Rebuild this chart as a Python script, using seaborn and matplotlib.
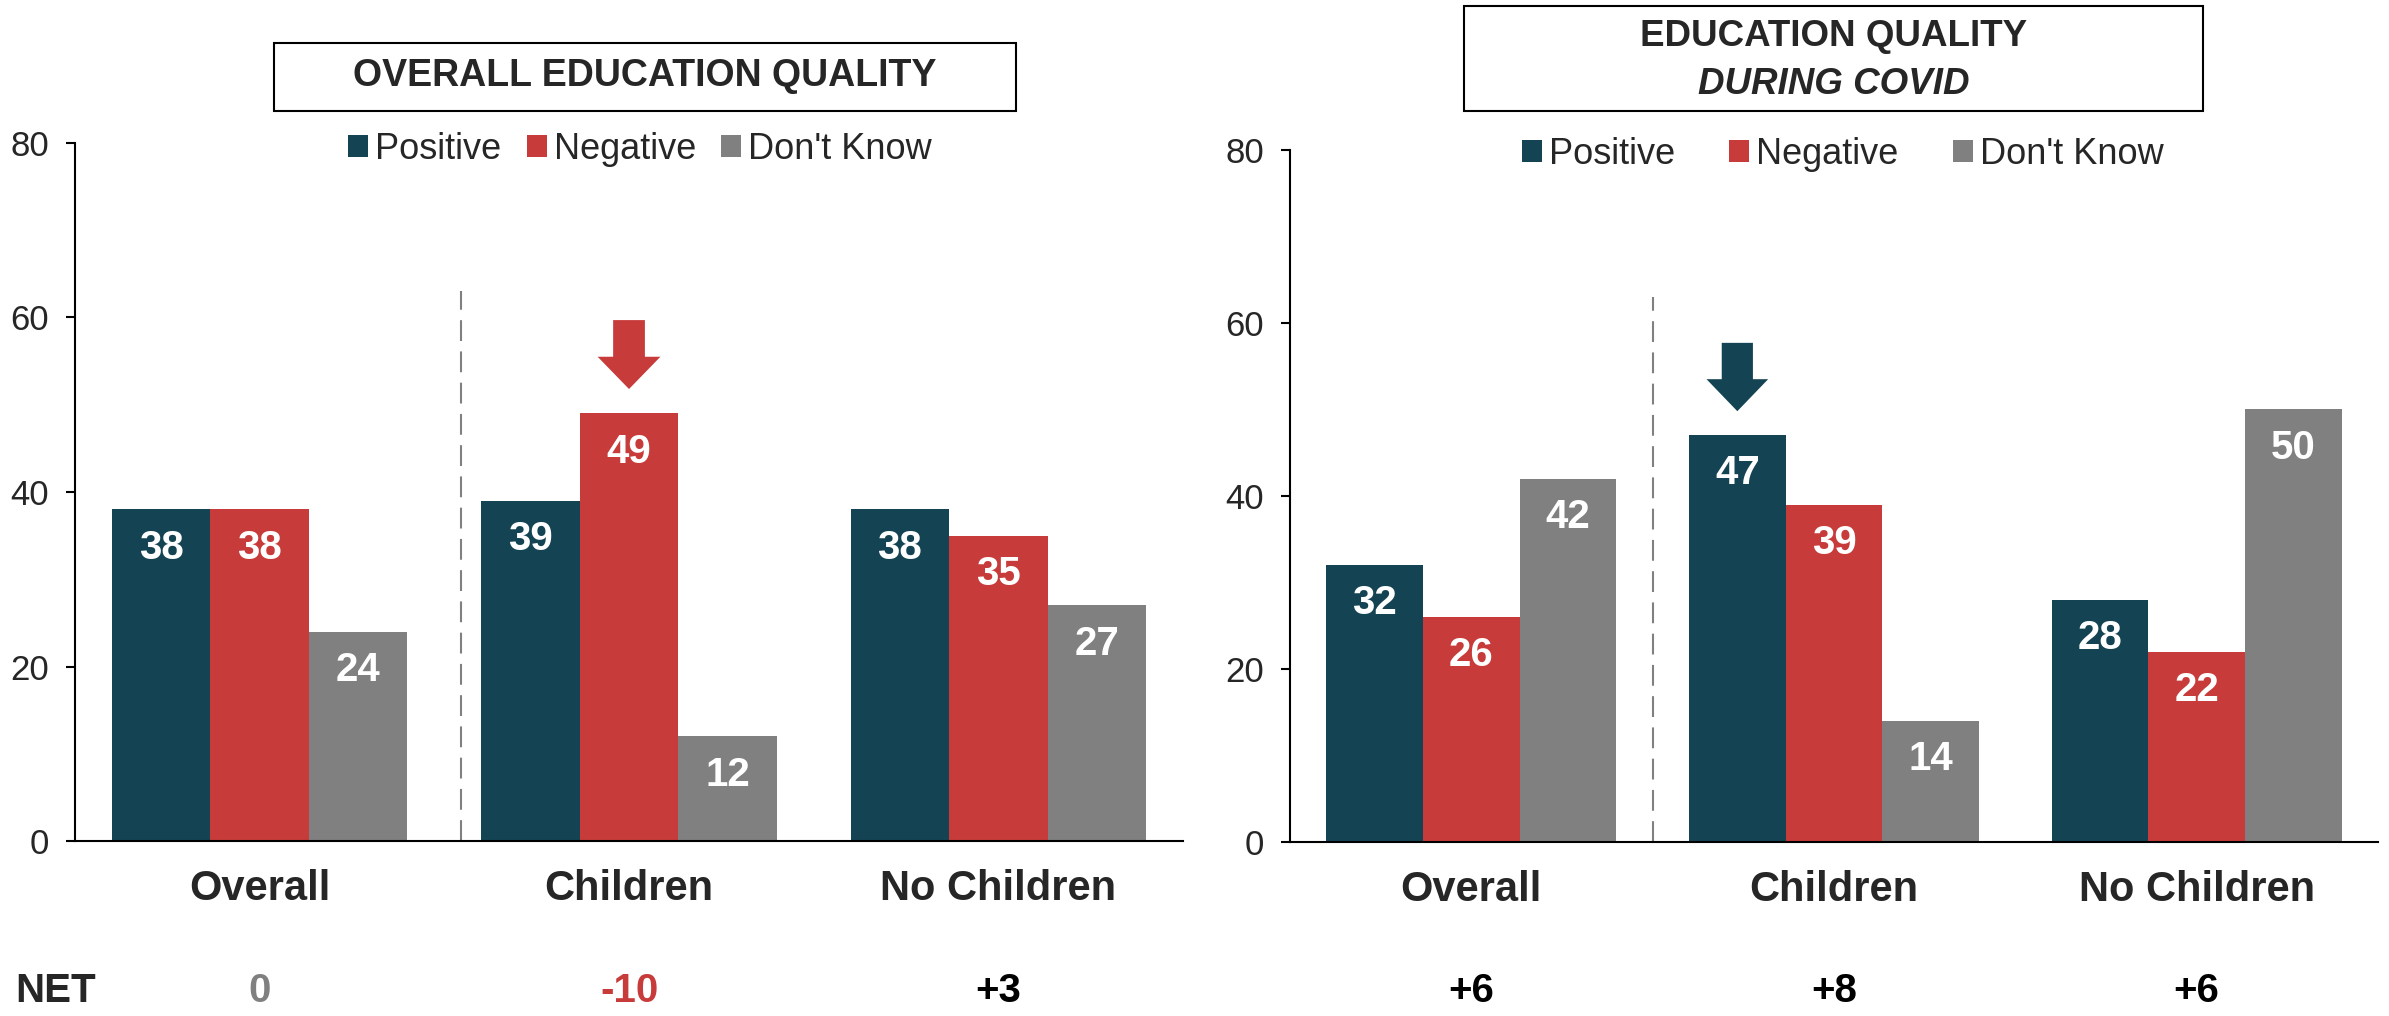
import matplotlib
matplotlib.use("Agg")
import matplotlib.pyplot as plt
from matplotlib.patches import Rectangle
from matplotlib.transforms import blended_transform_factory
import seaborn as sns
import pandas as pd

# data
categories = ["Overall", "Children", "No Children"]
series = ["Positive", "Negative", "Don't Know"]

overall_positive = [38, 39, 38]
overall_negative = [38, 49, 35]
overall_dont_know = [24, 12, 27]

covid_positive = [32, 47, 28]
covid_negative = [26, 39, 22]
covid_dont_know = [42, 14, 50]

# which bar gets the arrow on each panel
overall_highlight = ("Children", "Negative")
covid_highlight = ("Children", "Positive")

colors = {"Positive": "#144453", "Negative": "#C83B3B", "Don't Know": "#808080"}
GREY = "#808080"
NET_Y = 1 - 991 / 1016

sns.set_style("white")
plt.rcParams["font.family"] = ["Liberation Sans", "DejaVu Sans"]


def make_frame(pos, neg, dk):
    rows = []
    for i, cat in enumerate(categories):
        rows.append((cat, "Positive", pos[i]))
        rows.append((cat, "Negative", neg[i]))
        rows.append((cat, "Don't Know", dk[i]))
    return pd.DataFrame(rows, columns=["group", "answer", "value"])


def draw_panel(fig, rect, df, highlight, divider_x, legend_xy, colspacing):
    ax = fig.add_axes(rect)
    sns.barplot(data=df, x="group", y="value", hue="answer", order=categories,
                hue_order=series, palette=colors, width=0.8, linewidth=0,
                saturation=1, ax=ax)
    ax.set_xlim(-0.5, 2.5)
    ax.set_ylim(0, 80)
    ax.set_yticks([0, 20, 40, 60, 80])
    ax.set_xlabel("")
    ax.set_ylabel("")
    sns.despine(ax=ax)
    for side in ["left", "bottom"]:
        ax.spines[side].set_color("black")
        ax.spines[side].set_linewidth(1.5)
    ax.tick_params(axis="y", labelsize=25, length=6.5, width=1.5, pad=12,
                   left=True, color="black")
    ax.tick_params(axis="x", length=0, pad=20)
    ax.set_xticks(range(len(categories)))
    ax.set_xticklabels(categories, fontsize=30, fontweight="bold")

    # value labels inside the bars
    bar_w = 0.8 / len(series)
    for j, s in enumerate(series):
        sub = df[df["answer"] == s].set_index("group")
        for i, cat in enumerate(categories):
            v = sub.loc[cat, "value"]
            x = i + (j - 1) * bar_w
            ax.text(x, v - 4.4, f"{v}", ha="center", va="center", color="white",
                    fontsize=29, fontweight="bold")

    # dashed divider
    ax.plot([divider_x, divider_x], [0, 63], color=GREY, lw=1.5,
            ls=(0, (10, 5)), zorder=0)

    # arrow above the highlighted bar
    cat, s = highlight
    v = df[(df["group"] == cat) & (df["answer"] == s)]["value"].iloc[0]
    xc = categories.index(cat) + (series.index(s) - 1) * bar_w
    sw, hw = 0.043, 0.085
    top, neck, tip = v + 10.7, v + 6.5, v + 2.8
    ax.fill([xc - sw, xc + sw, xc + sw, xc + hw, xc, xc - hw, xc - sw],
            [top, top, neck, neck, tip, neck, neck], color=colors[s], lw=0)

    # NET row
    trans = blended_transform_factory(ax.transData, fig.transFigure)
    for i, cat in enumerate(categories):
        sub = df[df["group"] == cat].set_index("answer")["value"]
        net = sub["Positive"] - sub["Negative"]
        if net == 0:
            txt, col = "0", GREY
        elif net < 0:
            txt, col = f"{net}", colors["Negative"]
        else:
            txt, col = f"+{net}", "black"
        ax.text(i, NET_Y, txt, transform=trans, ha="center", va="center",
                fontsize=29, fontweight="bold", color=col)

    # legend
    handles, labels = ax.get_legend_handles_labels()
    ax.legend(handles, labels, ncol=3, loc="center", bbox_to_anchor=legend_xy,
              bbox_transform=fig.transFigure, frameon=False, fontsize=26,
              handlelength=0.55, handleheight=0.55, handletextpad=0.2,
              columnspacing=colspacing, borderpad=0)
    return ax


fig = plt.figure(figsize=(23.89, 10.16), dpi=100)

df_overall = make_frame(overall_positive, overall_negative, overall_dont_know)
df_covid = make_frame(covid_positive, covid_negative, covid_dont_know)

draw_panel(fig, [0.0314, 0.1722, 0.4638, 0.6871], df_overall, overall_highlight,
           0.545, (0.268, 0.853), 0.7)
draw_panel(fig, [0.540, 0.1713, 0.4554, 0.6811], df_covid, covid_highlight,
           0.5, (0.7714, 0.848), 1.5)

# title boxes
W, H = 2389.0, 1016.0
fig.add_artist(Rectangle((274 / W, 1 - 111 / H), 742 / W, 68 / H, fill=False,
                         edgecolor="black", lw=1.5, transform=fig.transFigure))
fig.text(645 / W, 1 - 76 / H, "OVERALL EDUCATION QUALITY", ha="center", va="center",
         fontsize=27, fontweight="bold")
fig.add_artist(Rectangle((1464 / W, 1 - 111 / H), 739 / W, 105 / H, fill=False,
                         edgecolor="black", lw=1.5, transform=fig.transFigure))
fig.text(1833.5 / W, 1 - 36 / H, "EDUCATION QUALITY", ha="center", va="center",
         fontsize=26.5, fontweight="bold")
fig.text(1833.5 / W, 1 - 85 / H, "DURING COVID", ha="center", va="center",
         fontsize=26.5, fontweight="bold", style="italic")

fig.text(15 / W, NET_Y, "NET", ha="left", va="center", fontsize=29,
         fontweight="bold")

fig.savefig("out.png", dpi=100)
